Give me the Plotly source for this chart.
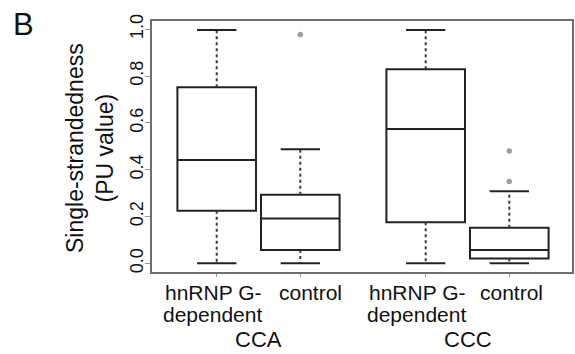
import plotly.graph_objects as go

# ---- data ----
categories = ["hnRNP G-<br>dependent", "control", "hnRNP G-<br>dependent", "control"]
groups = ["CCA", "CCC"]
positions = [1.0, 2.0, 3.5, 4.5]
lower = [0.0, 0.0, 0.0, 0.0]
q1 = [0.225, 0.057, 0.175, 0.021]
median = [0.441, 0.191, 0.574, 0.057]
q3 = [0.752, 0.293, 0.829, 0.152]
upper = [0.997, 0.487, 0.997, 0.308]
outliers = [[], [0.977], [], [0.48, 0.35]]
yticks = [0.0, 0.2, 0.4, 0.6, 0.8, 1.0]

FONT = "Liberation Sans, Arial, sans-serif"
TXT = "#111111"
LINE = "#222222"
BOXW = 0.94
CAPW = BOXW / 2

fig = go.Figure()

# box bodies (whiskers drawn separately as dotted lines)
for i, p in enumerate(positions):
    fig.add_trace(go.Box(
        x=[p], q1=[q1[i]], median=[median[i]], q3=[q3[i]],
        lowerfence=[q1[i]], upperfence=[q3[i]],
        width=BOXW, whiskerwidth=0,
        fillcolor="rgba(0,0,0,0)",
        line=dict(color=LINE, width=2),
        boxpoints=False, showlegend=False, hoverinfo="skip",
    ))

# dotted whiskers
wx, wy = [], []
for i, p in enumerate(positions):
    wx += [p, p, None, p, p, None]
    wy += [q3[i], upper[i], None, q1[i], lower[i], None]
fig.add_trace(go.Scatter(x=wx, y=wy, mode="lines",
                         line=dict(color="#3a3a3a", width=2, dash="dot"),
                         showlegend=False, hoverinfo="skip"))

# whisker caps
cx, cy = [], []
for i, p in enumerate(positions):
    for v in (upper[i], lower[i]):
        cx += [p - CAPW / 2, p + CAPW / 2, None]
        cy += [v, v, None]
fig.add_trace(go.Scatter(x=cx, y=cy, mode="lines",
                         line=dict(color=LINE, width=2),
                         showlegend=False, hoverinfo="skip"))

# outliers
ox, oy = [], []
for i, p in enumerate(positions):
    for v in outliers[i]:
        ox.append(p)
        oy.append(v)
fig.add_trace(go.Scatter(x=ox, y=oy, mode="markers",
                         marker=dict(color="#a0a0a0", size=5,
                                     line=dict(color="#8a8a8a", width=0.5)),
                         showlegend=False, hoverinfo="skip"))

fig.update_layout(
    width=575, height=354,
    margin=dict(l=152, r=1, t=21, b=82),
    paper_bgcolor="white", plot_bgcolor="white",
    font=dict(family=FONT, color=TXT),
    showlegend=False,
)
fig.update_xaxes(
    range=[0.226, 5.25], showgrid=False, zeroline=False,
    showline=True, mirror=True, linecolor="#6e6e6e", linewidth=2,
    tickvals=positions, ticktext=[""] * len(positions),
    ticks="outside", ticklen=3, tickcolor="#999", tickwidth=1,
)
fig.update_yaxes(
    range=[-0.037, 1.035], showgrid=False, zeroline=False,
    showline=True, mirror=True, linecolor="#6e6e6e", linewidth=2,
    tickvals=yticks, ticktext=[f"{v:.1f}" for v in yticks],
    tickangle=-90, tickfont=dict(size=18, family=FONT, color=TXT),
    ticks="outside", ticklen=5, tickcolor="#999", tickwidth=1,
    ticklabelstandoff=-5,
)

# category labels (two lines each)
xshifts = [-4, 10, -9, 2]
for i, p in enumerate(positions):
    for j, line in enumerate(categories[i].split("<br>")):
        fig.add_annotation(x=p, y=0, xref="x", yref="paper",
                           text=line, showarrow=False,
                           xanchor="center", yanchor="middle",
                           xshift=xshifts[i], yshift=-20 - 22 * j,
                           font=dict(size=21, family=FONT, color=TXT))

# group labels
for g, name in enumerate(groups):
    gx = (positions[2 * g] + positions[2 * g + 1]) / 2
    fig.add_annotation(x=gx, y=0, xref="x", yref="paper", text=name,
                       showarrow=False, xanchor="center", yanchor="bottom",
                       yshift=-81, borderpad=0,
                       font=dict(size=22, family=FONT, color=TXT))

# y-axis title
fig.add_annotation(x=0, y=0.494, xref="paper", yref="paper",
                   text="Single-strandedness<br>(PU value)", textangle=-90,
                   showarrow=False, xanchor="center", yanchor="middle",
                   xshift=-62, font=dict(size=23, family=FONT, color=TXT))

# panel letter
fig.add_annotation(x=0, y=1, xref="paper", yref="paper", text="B",
                   showarrow=False, xanchor="center", yanchor="middle",
                   xshift=-129, yshift=-3,
                   font=dict(size=31, family=FONT, color=TXT))

fig.write_html("out.html", config={"displayModeBar": False},
               post_script="document.body.style.margin='0';")
